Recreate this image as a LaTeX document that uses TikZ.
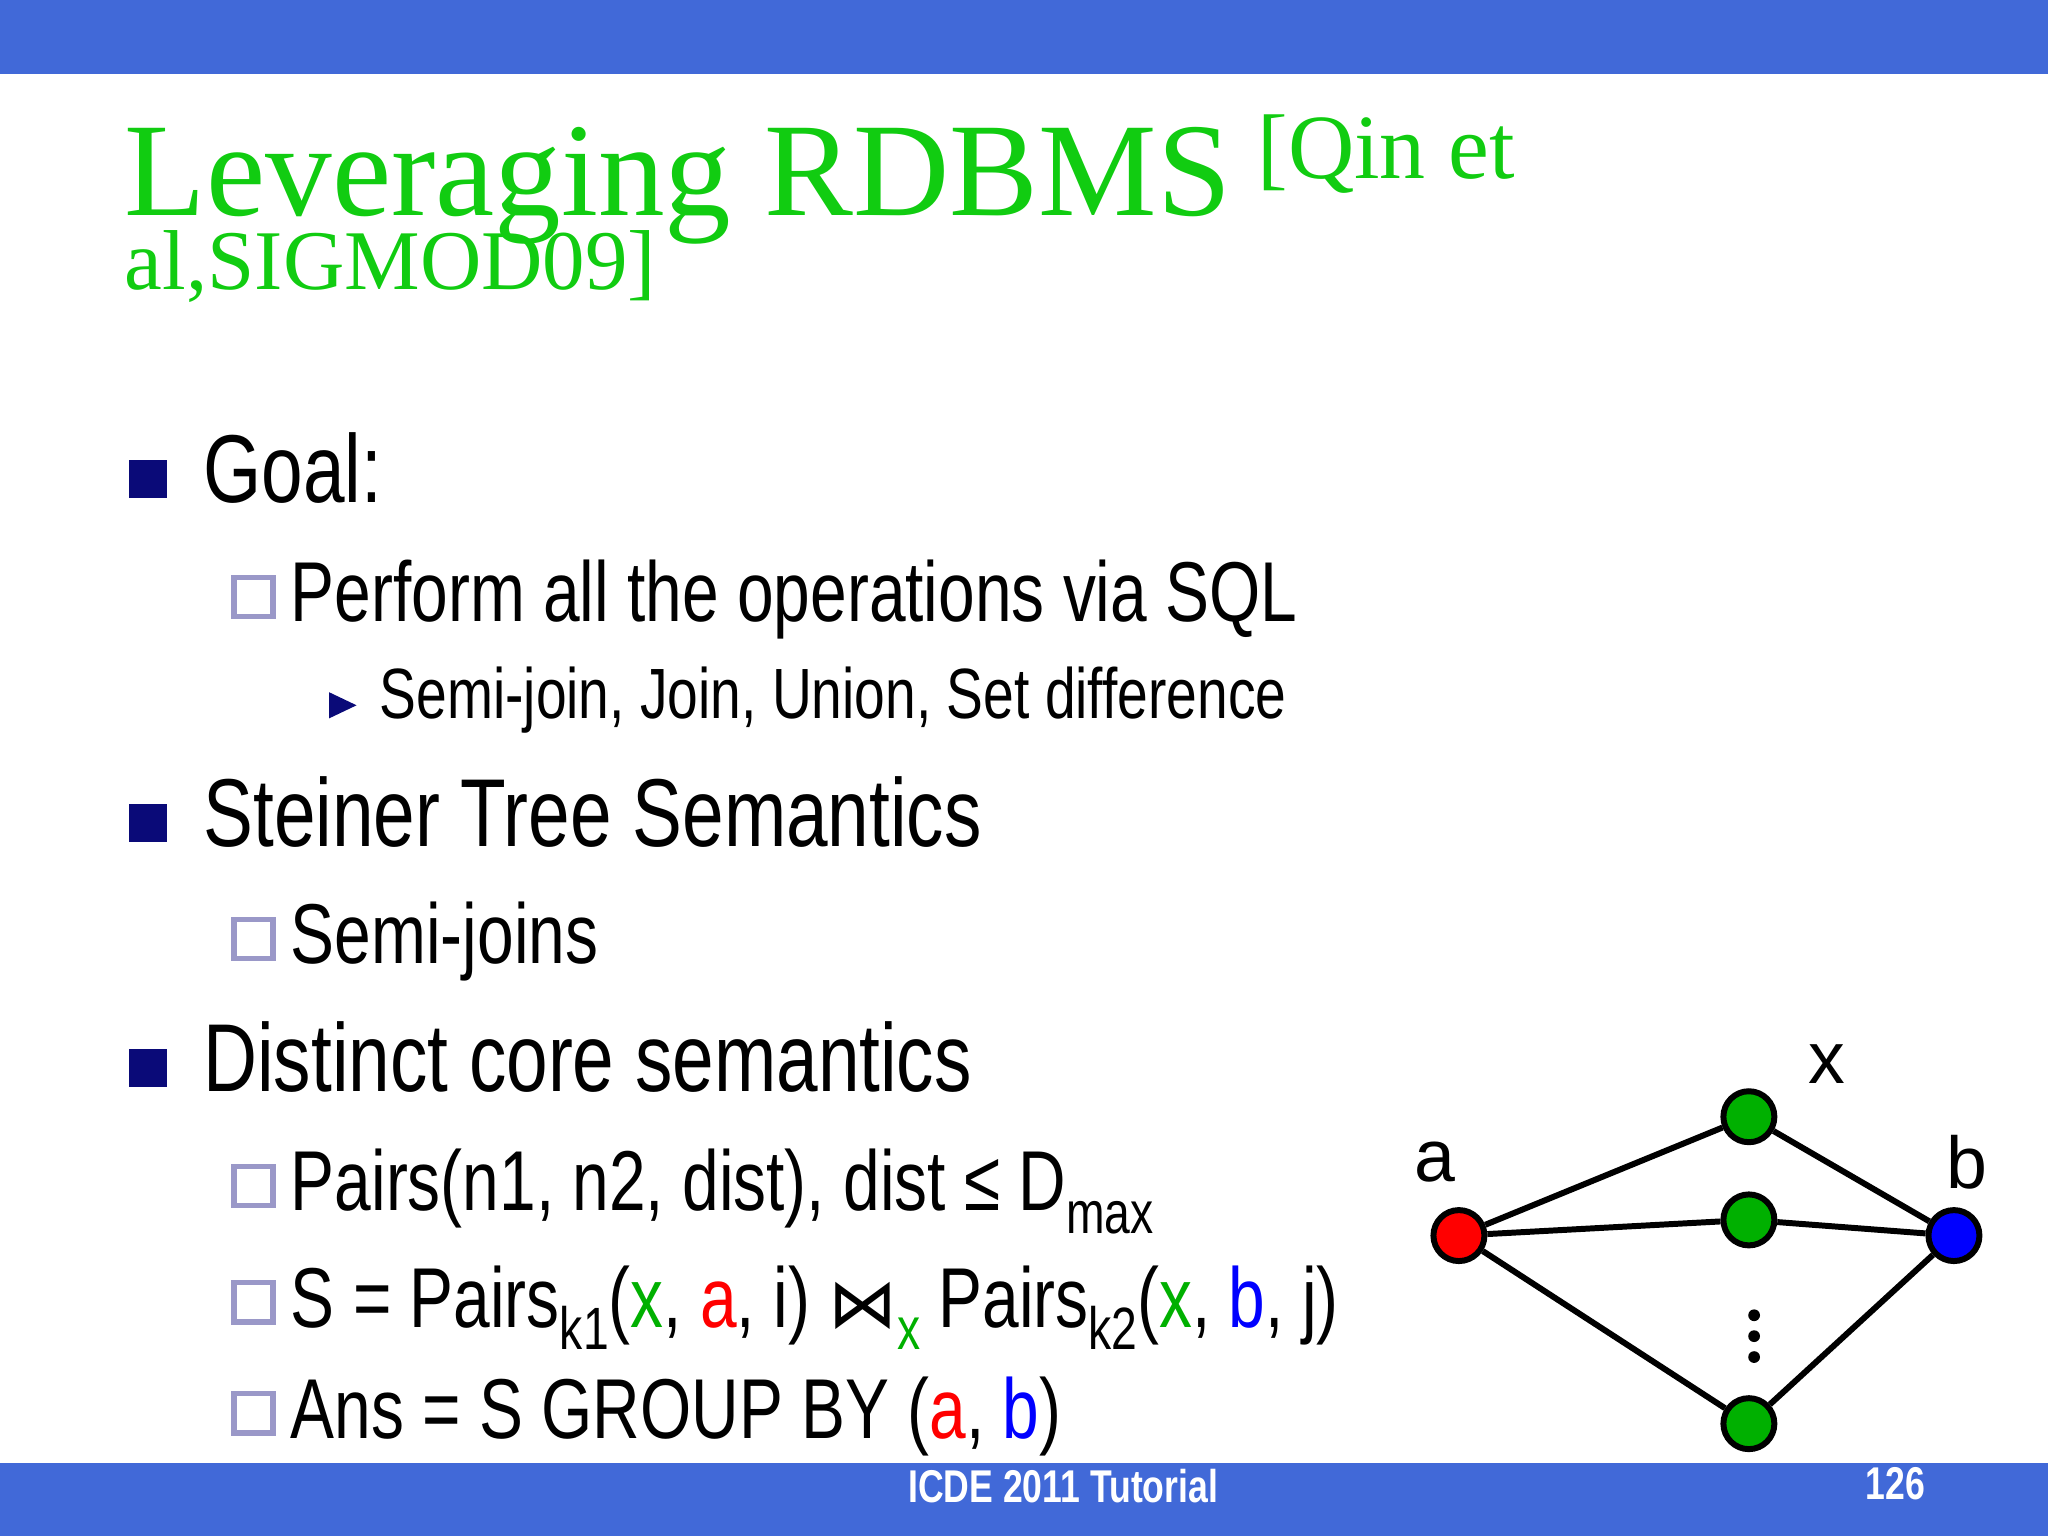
\documentclass[tikz,border=0pt]{standalone}
\usepackage{fontspec}
\setmainfont{Liberation Sans}[FakeStretch=0.775]
\newfontfamily\titlefont{Liberation Serif}
\newfontfamily\djv{DejaVu Sans}
\newfontfamily\plainsans{Liberation Sans}
\definecolor{barblue}{HTML}{4169D8}
\definecolor{tgreen}{HTML}{11CC11}
\definecolor{navy}{HTML}{0A0A78}
\definecolor{hollow}{HTML}{9A98C8}
\definecolor{gr}{HTML}{00B000}
\tikzset{
 lvone/.style={anchor=base west,inner sep=0,font=\fontsize{21}{21}\selectfont},
 lvtwo/.style={anchor=base west,inner sep=0,font=\fontsize{18.5}{18.5}\selectfont},
 lvthree/.style={anchor=base west,inner sep=0,font=\fontsize{15.5}{15.5}\selectfont},
 sq/.style={fill=navy,minimum size=0.29cm,inner sep=0},
 hsq/.style={draw=hollow,line width=1.2pt,minimum size=0.3cm,inner sep=0},
 vtx/.style={circle,draw=black,line width=1.3pt,minimum size=0.39cm,inner sep=0},
 edge/.style={line width=1.3pt},
 lbl/.style={font=\plainsans\fontsize{16}{16}\selectfont},
}
\begin{document}
\begin{tikzpicture}[x=0.01cm,y=-0.01cm]
\useasboundingbox (0,0) rectangle (1568,1176);
\fill[barblue] (0,0) rectangle (1568,57);
\fill[barblue] (0,1120) rectangle (1568,1176);
\node[anchor=center,text=white,font=\fontsize{10}{10}\selectfont\bfseries] (foot) at (814,1138) {ICDE 2011 Tutorial};
\node[anchor=center,text=white,font=\fontsize{10}{10}\selectfont\bfseries] (pg) at (1451,1136) {126};
% title
\node[anchor=base west,inner sep=0,text=tgreen,font=\titlefont\fontsize{29}{29}\selectfont] (t1) at (95,165) {Leveraging RDBMS};
\node[anchor=base west,inner sep=0,text=tgreen,font=\titlefont\fontsize{20}{20}\selectfont] (t2) at (962,137) {[Qin et};
\node[anchor=base west,inner sep=0,text=tgreen,font=\titlefont\fontsize{18.5}{18.5}\selectfont] (t3) at (95,222) {al,SIGMOD09]};
% bullets
\node[sq] (b1) at (113,367) {};
\node[lvone] (g) at (155,385) {Goal:};
\node[hsq] (h1) at (194,457) {};
\node[lvtwo] (p) at (222,476) {Perform all the operations via SQL};
\fill[navy] (252,530) -- (273,540) -- (252,550) -- cycle;
\node[lvthree] (sj) at (290,550) {Semi-join, Join, Union, Set difference};
\node[sq] (b2) at (113,630) {};
\node[lvone] (st) at (155,648) {Steiner Tree Semantics};
\node[hsq] (h2) at (194,719) {};
\node[lvtwo] (sjs) at (222,738) {Semi-joins};
\node[sq] (b3) at (113,818) {};
\node[lvone] (dc) at (155,836) {Distinct core semantics};
\node[hsq] (h3) at (194,908) {};
\node[lvtwo] (pr) at (222,927) {Pairs(n1, n2, dist), dist ≤ D\raisebox{-0.5ex}{\fontsize{13}{13}\selectfont max}};
\node[hsq] (h4) at (194,997) {};
\node[lvtwo] (s) at (222,1016) {S = Pairs\raisebox{-0.5ex}{\fontsize{13}{13}\selectfont k1}(\textcolor{gr}{x}, \textcolor{red}{a}, i) {\djv\fontsize{15}{15}\selectfont ⋈}\raisebox{-0.5ex}{\fontsize{13}{13}\selectfont\textcolor{gr}{x}} Pairs\raisebox{-0.5ex}{\fontsize{13}{13}\selectfont k2}(\textcolor{gr}{x}, \textcolor{blue}{b}, j)};
\node[hsq] (h5) at (194,1082) {};
\node[lvtwo] (ans) at (222,1101) {Ans = S GROUP BY (\textcolor{red}{a}, \textcolor{blue}{b})};
% graph
\node[vtx,fill=red] (a) at (1117,946) {};
\node[vtx,fill=gr] (x1) at (1339,855) {};
\node[vtx,fill=gr] (x2) at (1339,934) {};
\node[vtx,fill=gr] (x3) at (1339,1090) {};
\node[vtx,fill=blue] (b) at (1496,946) {};
\draw[edge] (a) -- (x1) (a) -- (x2) (a) -- (x3) (x1) -- (b) (x2) -- (b) (x3) -- (b);
\foreach \yy in {1007,1023,1039} \fill (1343,\yy) circle (4.5);
\node[lbl] (lx) at (1399,815) {x};
\node[lbl] (la) at (1099,890) {a};
\node[lbl] (lb) at (1506,890) {b};
\end{tikzpicture}
\end{document}
